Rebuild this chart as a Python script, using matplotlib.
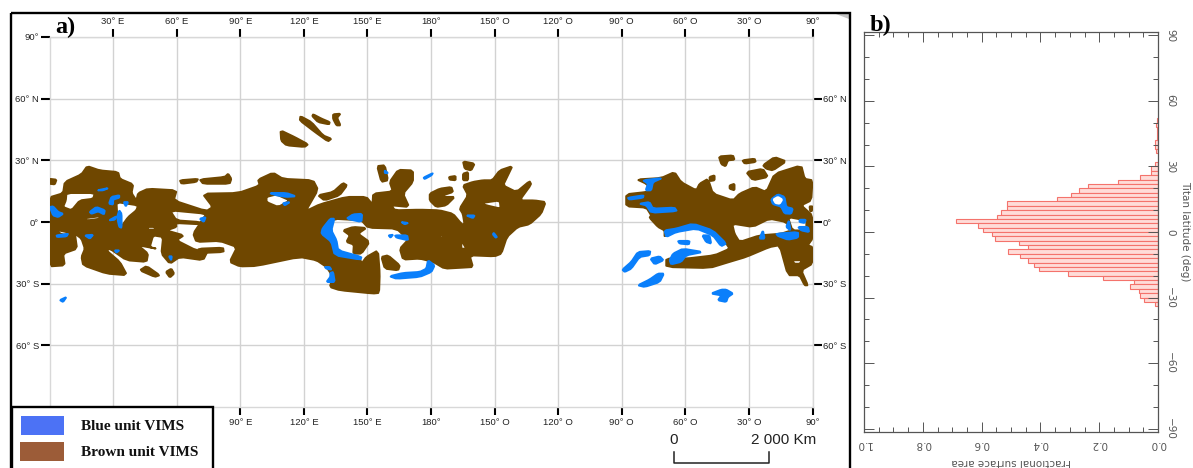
import numpy as np
import matplotlib
matplotlib.use("Agg")
import matplotlib.pyplot as plt
from matplotlib.path import Path
from matplotlib.patches import PathPatch, Rectangle, Polygon

plt.rcParams['font.family'] = ['Liberation Sans', 'DejaVu Sans']

# ---------- MAP DATA (lon 0-360 from left edge, lat) ----------
brown_main = [(0,12),(6.4,14),(7.2,19.5),(15.1,23.2),(17.8,27.2),(23.7,25.1),(32.4,24.3),(33.2,21),(39.5,18.3),(38.7,14.1),(41,10.5),(41.8,14),(46.5,16.2),(60,15.4),(58.6,10.5),(74,5.3),(77,7.3),(72.2,13.8),(89,14.1),(99.2,17.8),(98.4,20.6),(105.5,24),(110.2,21),(124.4,20.3),(126.7,15.7),(120.9,5.3),(127.5,8.6),(140,12.2),(149.5,12.2),(152.4,8.6),(152.7,13.8),(162,14.9),(160.5,19.5),(164.5,25.4),(171.5,25.1),(171.5,19.5),(166.8,13.8),(169.7,7.3),(161.3,8.1),(163,5.7),(174.7,6),(184,5.7),(190.4,4),(194.3,-0.8),(195.9,-1.6),(195,4),(193.5,6.5),(197.5,13),(195,17.8),(199.8,19.5),(204.5,20.3),(208.9,20.3),(212.4,25.1),(218.4,27.2),(216.3,22.7),(214,17.8),(220.3,14.6),(226.5,19.9),(227.3,18.3),(221.8,10.5),(228.9,10.5),(234.1,9.7),(232,4),(226.5,-1.1),(221,-2.4),(215.8,-7.3),(213.2,-15.4),(210,-16.7),(198.2,-16.2),(199.8,-21.9),(195,-22.2),(186.4,-22.7),(181,-19.4),(174.7,-17.8),(166.8,-18.3),(165.3,-13),(169.2,-8.6),(163.7,-3.2),(150.3,-2.8),(147.2,0.8),(133.8,1.6),(128.8,-4.1),(133.8,-8.9),(135.4,-14.6),(146.4,-17.3),(147.2,-20.3),(149.5,-17),(155,-13.8),(155.8,-25.1),(155.5,-34.5),(152.7,-34.8),(137,-33.2),(132.2,-31.6),(133.8,-26.7),(130.7,-21.9),(126,-18.6),(118,-17),(97.6,-21.4),(89.8,-21.6),(85,-19.4),(88.5,-12.2),(80.3,-9.2),(69.3,-9.7),(67.8,-5.7),(72.5,1.6),(74,4),(56.8,5.7),(59.9,0.8),(70.9,0),(70.9,-1.1),(59.6,-0.5),(59.9,-2.4),(55.2,-4.1),(63.4,-6.5),(59.9,-8.9),(69.3,-13.8),(74.8,-13.8),(72.5,-18.6),(61.5,-17),(56.8,-20.3),(52.8,-15.4),(53.6,-7.3),(48.9,-6.5),(47.3,-12.2),(50.5,-13),(41.8,-11.3),(46.5,-15.4),(45.8,-19.4),(36.3,-18.6),(28.5,-13),(26.9,-13.8),(33.2,-19.4),(36.6,-25.9),(26.9,-25.1),(15.9,-21.1),(15.1,-17),(16.7,-13),(15.1,-8.1),(12,-5.7),(13,-13),(6.4,-15.4),(7.2,-21.1),(0,-21.6),(0,-5.7)]
brown_main_holes = [
    [(8,14.1),(21.4,14.1),(20.6,11.3),(14.3,10.5),(10.4,5.7),(6.4,7.3),(7.7,10.5)],
    [(31.6,9.7),(41.8,8.1),(41,5.7),(37.1,2.4),(33.5,-2.8),(31.9,4)],
    [(15.1,1.6),(23.7,2.8),(23.7,1.6),(18.2,0.8)],
    [(2.5,-3.7),(8.5,-5),(11,-6.5),(5.7,-6)],
    [(102.4,12.2),(107,13.4),(113.4,10.5),(107.9,7.3),(102.4,9.7)],
    [(46.5,-2.4),(49.7,-2.4),(49.7,-3.7),(46.5,-3.7)],
    [(96.9,-14.6),(99.2,-15.7),(96,-15.7)],
    [(203.7,9.2),(212.4,10.5),(212.9,6.5),(206.1,8.1)],
    [(184.4,-5.7),(186.4,-7.6),(184.4,-7.6)],
    [(194.3,-8.9),(196.7,-13),(194.3,-13)],
]
brown_east = [(277.2,20.7),(288.6,21.4),(294.9,24.3),(298,19.4),(305.2,15.4),(306.7,18.6),(310.7,21),(313,13.8),(322.5,10.5),(325.6,13.8),(332.7,17),(338.2,14.6),(342.1,23.5),(354.7,27.6),(356.3,21),(360,20.3),(359.4,10.5),(354.7,8.1),(360,3.2),(360,-8.1),(357.8,-11.3),(360,-12.2),(360,-20.3),(354.7,-23.5),(357.8,-30.8),(356.3,-30.8),(353.9,-25.9),(348.4,-25.9),(344.5,-11.3),(339.7,-12.2),(328.7,-17),(320.9,-19.4),(311.4,-22.4),(291,-21.9),(291,-17.8),(300.4,-17.8),(313.8,-16.2),(320.9,-13),(319.3,-10.5),(313,-4.1),(303.6,-0.8),(294.9,-4.1),(290.2,-7.3),(290.2,-4.1),(287.1,-2.4),(283.1,2.1),(283.9,3.2),(281.6,7),(272.1,7.6),(272.1,13.5),(281.6,14.6),(283.9,15.4),(281.6,18.6)]
brown_east_holes = [
    [(322.1,-0.8),(331.8,-2.4),(339.7,1.6),(347.5,0),(349.9,-4.1),(345.2,-5.7),(335,-6.5),(325.6,-9.7),(323.2,-5.7)],
    [(348.4,2.4),(357.1,0.8),(357.1,-4.1),(350.5,-4.1)],
    [(350.5,-18.6),(355.2,-18.6),(353.9,-20.3),(351.5,-20.3)],
    [(285,3.2),(290.7,3.2),(290.2,2.4),(285,2.4)],
]
brown_islands = [
    [(109,44.6),(115.7,41.3),(122,37.8),(120.4,36.5),(111.8,37.3),(109.3,39.6)],
    [(118.4,51.5),(123.6,48.6),(129.1,42.1),(133,40.5),(131.4,39.2),(125.2,43.8),(118.1,49.4)],
    [(124.4,52.4),(128.3,50.3),(132.2,48.6),(131.9,47.5),(126.7,48.6),(124,51.5)],
    [(133.8,52.4),(137.3,52.7),(135.7,50.7),(137.3,47),(135.4,47),(133.8,50.2)],
    [(0,21),(3.3,20.6),(2.5,18.3),(0,18.6)],
    [(61.5,20.3),(70.1,21),(69.3,19.5),(62.3,18.6)],
    [(70.9,20.7),(82.7,21.9),(84.3,23.5),(85.8,21),(85,18.6),(72.5,18.6)],
    [(126.7,13),(133.8,14.6),(138.5,19),(140.4,17.8),(136.9,13),(129.7,10.5)],
    [(154.6,27.2),(158.2,27.6),(159.7,20.3),(156.6,19.5)],
    [(42.6,-23.5),(45.8,-21.4),(52,-25.9),(49.7,-26.7)],
    [(54.9,-24.3),(57.5,-22.7),(58.8,-25.1),(56.8,-27)],
    [(70.1,-13),(81.9,-12.5),(82.2,-14.6),(70.9,-15.1)],
    [(138.5,-4.1),(143.3,-2.4),(149.5,-2.9),(145.6,-5.7),(151,-9.7),(147.2,-15.4),(143.3,-15.4),(143.6,-11),(140.1,-9.7),(141.7,-6.5)],
    [(156.6,-17),(159.7,-16.2),(165.3,-21.1),(164.5,-23.5),(158.2,-22.7)],
    [(179.4,13.8),(184.1,16.2),(189.6,17),(190.4,14.6),(185.7,13),(186.4,12.2),(191.2,12.2),(187.2,8.1),(182.5,7.3),(179.4,10.5)],
    [(195.1,29.5),(200.6,28.4),(199,25.1),(195.9,25.9)],
    [(195.1,23.5),(197.5,24.3),(197.5,20.3),(195.1,20.3)],
    [(188.5,21.9),(191.6,22.4),(191.6,20.3),(188.8,20.6)],
    [(315.8,31.9),(322.5,32.4),(323.2,30.3),(320.1,30),(319,27.1),(317,28.1)],
    [(326.9,30),(332.7,30.8),(333.2,29.2),(328,28.4)],
    [(336.6,27.6),(342.1,31.6),(347.6,29.5),(341.3,25.1),(338.2,25.9)],
    [(328.7,24.3),(336.6,25.9),(339,21.9),(331.9,20.3)],
    [(320.9,17.8),(323.2,18.6),(323.2,15.4),(320.9,16.2)],
    [(311.4,21.9),(313.8,22.7),(313.8,20.3),(311.6,19.9)],
    [(358.6,7.6),(360,7.6),(359.7,5.3),(358.9,5.3)],
]
blue_units = [
    [(0.2,7.3),(1.7,7.6),(4.1,4.9),(6.4,4),(4.1,2.4),(1.7,3.2)],
    [(22.6,15.4),(27.7,16.5),(25.3,15.4)],
    [(28.1,8.9),(29.2,12.2),(32.9,13),(32.9,11.8),(30,10.9),(30,8.5)],
    [(19,4.9),(22.1,7.3),(26.1,5.7),(25.7,3.7),(23,5.2),(19.8,4)],
    [(31.9,2.4),(32.9,5.7),(34,4),(34,-2.8),(32.9,-2.4)],
    [(28.1,0.8),(31.6,2.8),(30.8,1.1)],
    [(35,9.7),(37.1,9.7),(36,7.6)],
    [(3.3,-6.5),(8.8,-5.7),(8,-7),(3.6,-7.3)],
    [(16.7,-6.5),(20.6,-6.2),(19,-8.1)],
    [(70.9,1.6),(73.7,2.4),(72.8,0)],
    [(30.8,-13.8),(32.9,-13.8),(31.6,-14.9)],
    [(56.4,-16.7),(57.7,-16.7),(57.4,-18.6)],
    [(103.9,14.1),(111.8,14.1),(116.2,12.5),(111.8,12.2),(107,13)],
    [(110.2,9.2),(113.4,9.7),(111,8.1)],
    [(132.5,1.6),(134.4,1.6),(133,-4.1),(135.4,-8.9),(136.2,-13.8),(147.2,-17),(146.7,-18.3),(134.6,-16.2),(133,-9.6),(128.3,-5.7),(128.8,-3.2)],
    [(140.1,1.6),(143.2,3.7),(147.5,4),(147.2,0)],
    [(163,-6.5),(168.8,-6.5),(169.2,-8.9),(163.7,-7.6)],
    [(160.5,-26.4),(166.8,-24.8),(174.7,-24.3),(177.8,-22.7),(178.6,-18.6),(181.7,-21.1),(180.2,-24.3),(174.7,-26.7),(163.7,-27.6)],
    [(132.5,-24.8),(133.8,-24.3),(134.6,-29.2),(130.7,-29.2),(132.5,-26.7)],
    [(129.9,-21.9),(132.2,-21.9),(133,-23.2),(130.7,-22.7)],
    [(158.2,25.1),(159.7,23.8),(158.2,23.8)],
    [(160,-6.5),(162.1,-6.2),(160.9,-7.6)],
    [(166,0),(169.2,-0.5),(167.6,-1.1)],
    [(4.9,-38),(8,-36.5),(6.4,-38.9)],
    [(176.5,21.6),(180.9,23.8),(180.2,22.7),(177,20.9)],
    [(196.7,3.2),(200.6,3.2),(199.8,1.9)],
    [(209.6,-5.3),(211.1,-7.3),(210.5,-7.6),(209.2,-6)],
    [(270.3,-23.2),(274.5,-19.4),(277.6,-14.6),(283.5,-14.1),(283.1,-16.2),(278.4,-17),(274.5,-22.7),(271.4,-24.3)],
    [(283.5,-17.8),(287.9,-16.7),(289.7,-18.6),(285.5,-20.6)],
    [(277.6,-30.8),(283.1,-28),(287.1,-25.1),(289.9,-25.1),(287.9,-29.2),(280.8,-31.6)],
    [(312.2,-34.8),(317,-32.9),(319.3,-32.9),(322.5,-34.8),(320.1,-36.5),(319.3,-38.9),(315.4,-38.1),(317,-35.7)],
    [(280,20.3),(289.1,21.4),(284.7,19.4),(283.9,15.4),(281.3,15.4),(282.4,18.6)],
    [(272.9,11.8),(280.3,13),(280,11.8),(273.6,10.9)],
    [(278.4,8.9),(283.1,9.7),(284.7,6.5),(294.9,7),(296,5.3),(283.9,4.5),(281.6,8.1)],
    [(290.2,-4.1),(295.7,-3.2),(303.6,-0.8),(313,-4.1),(319.3,-10.5),(316.9,-11.8),(313,-6.5),(305.2,-3.2),(295.7,-4.9),(291,-7.3)],
    [(296.5,-9.2),(302,-9.2),(301.7,-10.9),(297.3,-10.5)],
    [(292.6,-18.6),(294.2,-15.4),(298.9,-13),(308.3,-14.6),(300.4,-16.2),(298,-19.4),(293.3,-20.6)],
    [(308,-6.5),(311.4,-6.5),(312.2,-10.5),(309.8,-9.7)],
    [(340.5,11),(343.7,13.5),(346.8,12.2),(347.6,7.3),(350.7,6.5),(349.9,4),(346.8,4.2),(345.2,7.5),(341.3,8.7)],
    [(335,-8.1),(336.6,-4.1),(337.4,-8.1)],
    [(342.9,-5.7),(353.2,-4.9),(353.2,-7.6),(348.4,-8.6),(343.7,-6.8)],
    [(353.2,-2.4),(357.9,-2.4),(358.4,-4.9),(354.7,-4.1)],
    [(353.9,1.1),(356.8,1.1),(356.3,-0.5),(353.9,0)],
    [(347.6,-2.4),(348.9,0.8),(349.6,-4.1)],
]
white_ring = [(341.6,11),(343.7,12.2),(345.7,10.9),(344.5,8.9),(342.6,9.2)]

lon_ticks = [30, 60, 90, 120, 150, 180, 210, 240, 270, 300, 330, 360]
lon_labels = ["30° E", "60° E", "90° E", "120° E", "150° E", "180°", "150° O", "120° O", "90° O", "60° O", "30° O", "90°"]
lat_ticks = [90, 60, 30, 0, -30, -60]
lat_labels = ["90°", "60° N", "30° N", "0°", "30° S", "60° S"]

# ---------- HISTOGRAM DATA ----------
lat_bin_low = [50, 48, 46, 44, 42, 40, 38, 36, 30, 28, 26, 24, 22, 20, 18, 16, 14, 12, 10, 8, 6, 4, 2, 0,
               -2, -4, -6, -8, -10, -12, -14, -16, -18, -20, -22, -24, -26, -28, -30, -32, -34]
frac_area = [.005, .007, .002, .002, .003, .009, .011, .008, .01, .023, .025, .06, .135, .237, .27, .295, .342, .514, .512, .535, .546, .686, .611, .594,
             .563, .555, .473, .442, .509, .468, .442, .422, .405, .305, .187, .082, .095, .065, .062, .046, .011]

BROWN = "#6f4700"
BLUE = "#0a7ffb"
W, H = 1193, 468


def signed_area(pts):
    a = np.array(pts)
    x, y = a[:, 0], a[:, 1]
    return 0.5 * np.sum(x * np.roll(y, -1) - np.roll(x, -1) * y)


def rounded(pts):
    # one pass of corner cutting, the outlines in the picture are a bit rounded
    a = np.array(pts, dtype=float)
    b = np.roll(a, -1, axis=0)
    a = np.column_stack([0.85 * a + 0.15 * b, 0.15 * a + 0.85 * b]).reshape(-1, 2)
    return [tuple(p) for p in a]


def poly_patch(outer, color, holes=(), zorder=3):
    verts, codes = [], []
    rings = [(outer, 1)] + [(h, -1) for h in holes]
    for ring, sign in rings:
        pts = rounded(ring)
        if signed_area(pts) * sign < 0:
            pts = pts[::-1]
        verts += pts + [pts[0]]
        codes += [Path.MOVETO] + [Path.LINETO] * (len(pts) - 1) + [Path.CLOSEPOLY]
    return PathPatch(Path(verts, codes), facecolor=color, edgecolor=color, lw=1.4,
                     joinstyle="round", zorder=zorder)


def px_axes(fig, left, top, right, bottom):
    return fig.add_axes([left / W, 1 - bottom / H, (right - left) / W, (bottom - top) / H])


fig = plt.figure(figsize=(W / 100, H / 100), dpi=100)

# ---------- MAP ----------
ax = px_axes(fig, 49.5, 37, 812.5, 407)
ax.set_xlim(0, 360)
ax.set_ylim(-90, 90)
ax.set_axisbelow(True)
ax.grid(True, color="#d2d2d2", lw=1)
for s in ax.spines.values():
    s.set_color("#d8d8d8")
    s.set_linewidth(1)

ax.add_patch(poly_patch(brown_main, BROWN, brown_main_holes))
ax.add_patch(poly_patch(brown_east, BROWN, brown_east_holes))
for p in brown_islands:
    ax.add_patch(poly_patch(p, BROWN))
for p in blue_units:
    ax.add_patch(poly_patch(p, BLUE, zorder=4))
ax.add_patch(poly_patch(white_ring, "white", zorder=5))

ax.set_xticks(lon_ticks)
ax.set_xticklabels(lon_labels, fontsize=6.8, color="#222222")
ax.tick_params(axis="x", top=True, labeltop=True, bottom=False, labelbottom=False,
               length=6, width=1.5, pad=2, color="black")
ax.set_yticks(lat_ticks)
ax.set_yticklabels(lat_labels, fontsize=6.8, color="#222222")
ax.tick_params(axis="y", length=6.5, width=1.5, pad=1, color="black")

# the two first bottom ticks sit under the legend box
low = ax.secondary_xaxis("bottom")
low.set_xticks(lon_ticks[2:])
low.set_xticklabels(lon_labels[2:], fontsize=6.8, color="#222222")
low.tick_params(length=6, width=1.5, pad=2, color="black")
low.spines["bottom"].set_visible(False)

right = ax.secondary_yaxis("right")
right.set_yticks(lat_ticks[1:])
right.set_yticklabels(lat_labels[1:], fontsize=6.8, color="#222222")
right.tick_params(length=6.5, width=1.5, pad=1, color="black")
right.spines["right"].set_visible(False)

# ---------- HISTOGRAM ----------
hx = px_axes(fig, 864, 32, 1158, 432)
hx.barh(lat_bin_low, frac_area, height=2, align="edge", color="#ffdcd8", edgecolor="#f4736c", linewidth=0.8)
hx.set_xlim(1.0, 0.0)
hx.set_ylim(-91.5, 91.5)
hx.set_xticks(np.arange(0, 1.01, 0.2))
hx.set_xticks(np.arange(0, 1.01, 0.05), minor=True)
hx.set_yticks(np.arange(-90, 91, 30))
hx.set_yticks(np.arange(-90, 91, 10), minor=True)
hx.tick_params(axis="both", which="major", direction="in", length=7, width=0.7, color="#555555",
               top=True, right=True, left=True, bottom=True)
hx.tick_params(axis="both", which="minor", direction="in", length=3.5, width=0.7, color="#555555",
               top=True, right=True, left=True, bottom=True)
hx.tick_params(axis="y", which="major", labelleft=False, labelright=True, labelrotation=270, pad=5)
hx.tick_params(axis="x", which="major", labelrotation=180, pad=5)
hx.set_yticklabels([str(v).replace("-", "\u2212") for v in range(-90, 91, 30)], va="center")
hx.set_xticklabels(["0.0", "0.2", "0.4", "0.6", "0.8", "1.0"])
for t in hx.get_xticklabels() + hx.get_yticklabels():
    t.set_fontfamily("DejaVu Sans")
    t.set_fontsize(7.5)
    t.set_color("#555555")
for s in hx.spines.values():
    s.set_color("#555555")
    s.set_linewidth(0.9)

# ---------- OVERLAY (frame, legend, scale bar, panel letters) ----------
ov = fig.add_axes([0, 0, 1, 1], zorder=10)
ov.set_xlim(0, W)
ov.set_ylim(H, 0)
ov.axis("off")
ov.patch.set_alpha(0)

ov.add_patch(Polygon([(836, 14), (849, 14), (849, 19)], fc="#c4c4c4", ec="none"))
ov.add_patch(Rectangle((11, 13), 839, 470, fill=False, ec="black", lw=1.7, clip_on=True))
ov.add_patch(Rectangle((12, 407), 201, 70, fc="white", ec="black", lw=1.7))
ov.add_patch(Rectangle((21, 416), 43, 19, fc="#4c72f5", ec="none"))
ov.add_patch(Rectangle((20, 442), 44, 19, fc="#9c5c38", ec="none"))
ov.text(81, 427, "Blue unit VIMS", family="Liberation Serif", weight="bold", fontsize=11, va="center", color="#111111")
ov.text(81, 452, "Brown unit VIMS", family="Liberation Serif", weight="bold", fontsize=11, va="center", color="#111111")

ov.text(674, 440, "0", fontsize=11, ha="center", va="center", color="#222222")
ov.text(816, 440, "2 000 Km", fontsize=11, ha="right", va="center", color="#222222")
ov.plot([674, 674, 769, 769], [452, 463, 463, 452], color="#222222", lw=1.1)

ov.text(55, 27, "a)", family="Liberation Serif", weight="bold", fontsize=17.5, va="center", color="black")
ov.text(870, 25, "b)", family="Liberation Serif", weight="bold", fontsize=17.5, va="center", color="black")
ov.text(1011, 462, "Fractional surface area", family="DejaVu Sans", fontsize=7.5, rotation=180,
        ha="center", va="center", color="#555555")
ov.text(1185, 231, "Titan latitude (deg)", family="DejaVu Sans", fontsize=7.5, rotation=270,
        ha="center", va="center", color="#555555")

plt.savefig("out.png", dpi=100)
